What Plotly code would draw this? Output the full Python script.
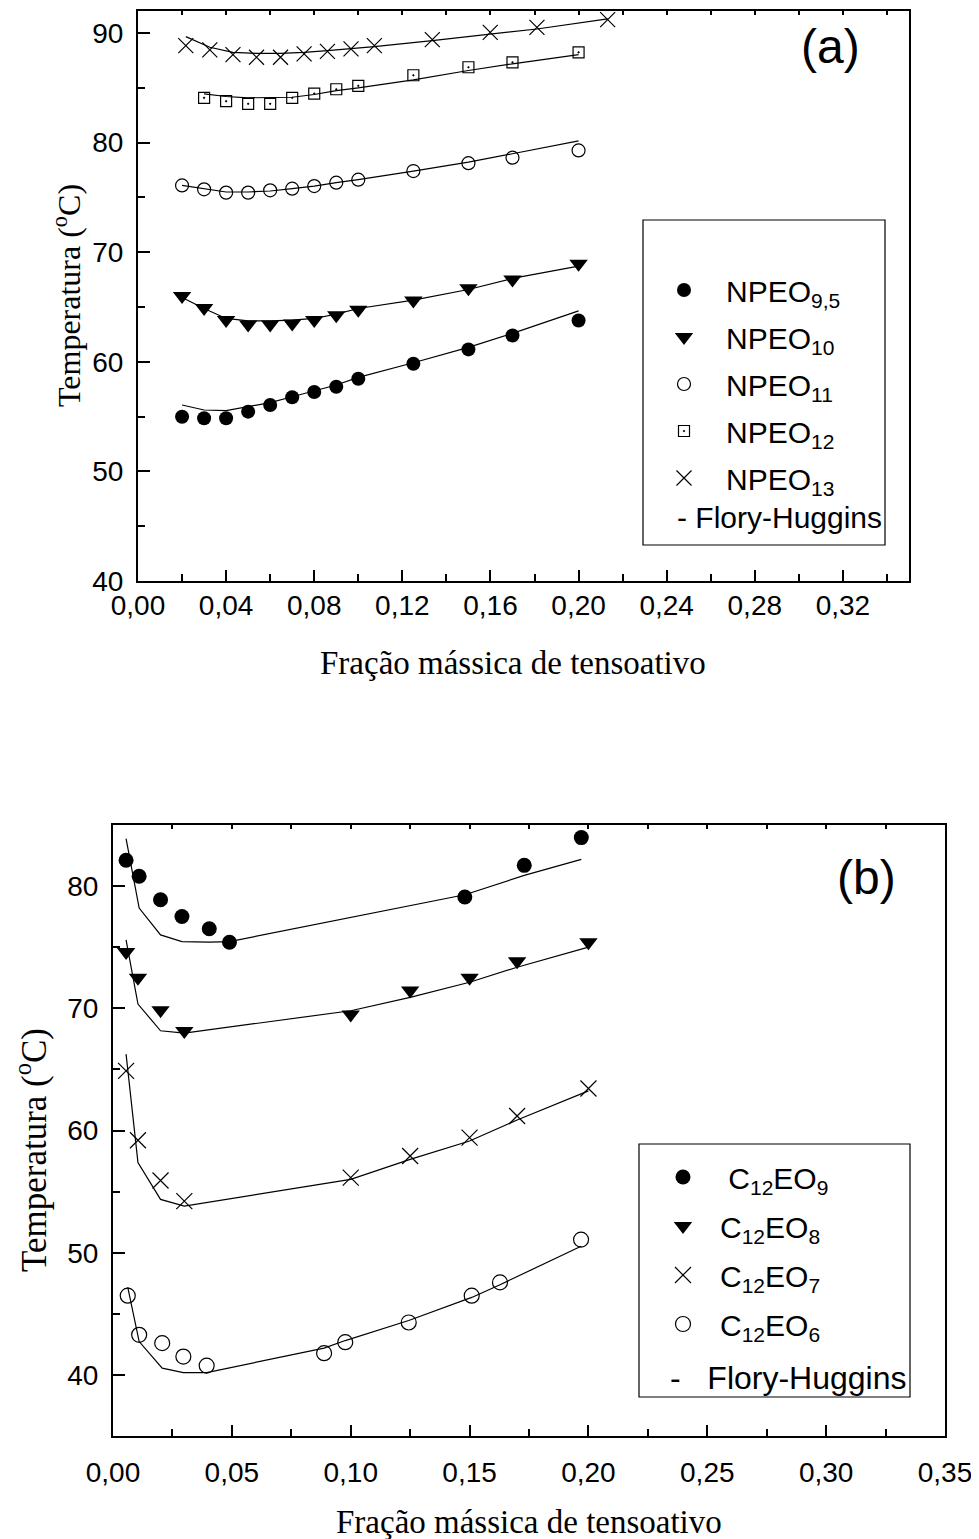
import plotly.graph_objects as go

# Reference canvas is 979x1539; the page shows the figure with an 8px body margin,
# so the figure is drawn 8px smaller and reference pixel positions are shifted by 8.
REF_W, REF_H = 979, 1539
OFF = 8
W, H = REF_W - OFF, REF_H - OFF

# ---------------- Panel (a): NPEO ----------------
x_npeo = [0.02, 0.03, 0.04, 0.05, 0.06, 0.07, 0.08, 0.09, 0.10, 0.125, 0.15, 0.17, 0.20]
t_npeo95 = [54.99, 54.85, 54.85, 55.45, 56.06, 56.76, 57.24, 57.72, 58.45, 59.82, 61.13, 62.40, 63.77]
fh_npeo95 = [56.06, 55.60, 55.54, 55.90, 56.27, 56.81, 57.36, 57.88, 58.58, 59.91, 61.31, 62.59, 64.64]
t_npeo10 = [66.0, 64.9, 63.8, 63.4, 63.4, 63.5, 63.8, 64.25, 64.75, 65.6, 66.7, 67.5, 68.95]
fh_npeo10 = [65.87, 64.86, 63.95, 63.73, 63.73, 63.80, 63.95, 64.34, 64.86, 65.62, 66.59, 67.60, 68.72]
t_npeo11 = [76.09, 75.73, 75.43, 75.43, 75.64, 75.79, 76.03, 76.34, 76.61, 77.40, 78.12, 78.62, 79.28]
fh_npeo11 = [76.10, 75.79, 75.49, 75.49, 75.58, 75.79, 76.03, 76.34, 76.62, 77.40, 78.22, 78.98, 80.15]
x_npeo12 = [0.03, 0.04, 0.05, 0.06, 0.07, 0.08, 0.09, 0.10, 0.125, 0.15, 0.17, 0.20]
t_npeo12 = [84.08, 83.77, 83.53, 83.53, 84.08, 84.47, 84.86, 85.17, 86.14, 86.87, 87.32, 88.23]
fh_npeo12 = [84.44, 84.20, 84.08, 84.08, 84.13, 84.38, 84.74, 84.99, 85.72, 86.57, 87.18, 88.02]
x_npeo13 = [0.0217, 0.0326, 0.0431, 0.0538, 0.0647, 0.0754, 0.0860, 0.0967, 0.1073, 0.1336, 0.1599, 0.1811, 0.2132]
t_npeo13 = [88.84, 88.45, 88.02, 87.78, 87.78, 88.09, 88.32, 88.54, 88.84, 89.39, 90.05, 90.51, 91.21]
fh_npeo13 = [89.66, 88.69, 88.23, 88.14, 88.14, 88.23, 88.39, 88.57, 88.75, 89.30, 89.91, 90.36, 91.28]

# ---------------- Panel (b): C12EOn ----------------
x_c12eo9 = [0.0055, 0.011, 0.02, 0.029, 0.0405, 0.049, 0.148, 0.173, 0.197]
t_c12eo9 = [82.11, 80.80, 78.88, 77.51, 76.51, 75.41, 79.11, 81.70, 83.97]
fh_c12eo9 = [83.89, 78.20, 76.01, 75.46, 75.41, 75.46, 79.29, 80.88, 82.19]
x_c12eo8 = [0.0055, 0.0105, 0.02, 0.03, 0.10, 0.125, 0.15, 0.17, 0.20]
t_c12eo8 = [74.6, 72.5, 69.85, 68.15, 69.5, 71.45, 72.5, 73.85, 75.4]
fh_c12eo8 = [75.60, 70.35, 68.16, 67.97, 69.80, 70.90, 72.13, 73.36, 75.0]
x_c12eo7 = [0.0055, 0.0105, 0.02, 0.03, 0.10, 0.125, 0.15, 0.17, 0.20]
t_c12eo7 = [64.88, 59.20, 55.91, 54.22, 56.14, 57.91, 59.42, 61.19, 63.44]
fh_c12eo7 = [66.25, 57.37, 54.36, 53.81, 56.0, 57.64, 59.14, 60.86, 63.24]
x_c12eo6 = [0.0062, 0.011, 0.0207, 0.0296, 0.0394, 0.0888, 0.0977, 0.1244, 0.1509, 0.1628, 0.1969]
t_c12eo6 = [46.48, 43.28, 42.60, 41.50, 40.76, 41.78, 42.68, 44.29, 46.48, 47.57, 51.07]
fh_c12eo6 = [47.19, 42.73, 40.55, 40.19, 40.19, 42.19, 42.81, 44.45, 46.34, 47.38, 50.53]

names_a = ["NPEO<sub>9,5</sub>", "NPEO<sub>10</sub>", "NPEO<sub>11</sub>", "NPEO<sub>12</sub>", "NPEO<sub>13</sub>"]
names_b = ["\u00a0C<sub>12</sub>EO<sub>9</sub>", "C<sub>12</sub>EO<sub>8</sub>",
           "C<sub>12</sub>EO<sub>7</sub>", "C<sub>12</sub>EO<sub>6</sub>"]
fit_label = "Flory-Huggins"
x_title = "Fração mássica de tensoativo"
y_title = "Temperatura (<sup>o</sup>C)"


def fx(px):
    return (px - OFF) / W


def fy(py):
    return 1 - (py - OFF) / H


SANS = "Liberation Sans, Arial, Helvetica, sans-serif"
SERIF = "Liberation Serif, Times New Roman, serif"
BLACK = "black"

fig = go.Figure()

sym_a = [
    dict(symbol="circle", size=14, color=BLACK),
    dict(symbol="triangle-down", size=16, color=BLACK),
    dict(symbol="circle-open", size=13, color=BLACK, line=dict(width=1.2, color=BLACK)),
    dict(symbol="square-open-dot", size=11, color=BLACK, line=dict(width=1.2, color=BLACK)),
    dict(symbol="x-thin-open", size=15, color=BLACK, line=dict(width=1.2, color=BLACK)),
]
series_a = [
    (x_npeo, t_npeo95, fh_npeo95),
    (x_npeo, t_npeo10, fh_npeo10),
    (x_npeo, t_npeo11, fh_npeo11),
    (x_npeo12, t_npeo12, fh_npeo12),
    (x_npeo13, t_npeo13, fh_npeo13),
]
for i, (xs, ts, fs) in enumerate(series_a):
    fig.add_trace(go.Scatter(x=xs, y=fs, mode="lines", line=dict(color=BLACK, width=1.2),
                             showlegend=False, xaxis="x3", yaxis="y", hoverinfo="skip"))
for i, (xs, ts, fs) in enumerate(series_a):
    fig.add_trace(go.Scatter(x=xs, y=ts, mode="markers", marker=sym_a[i], name=names_a[i],
                             legend="legend", legendgroup="a%d" % i, xaxis="x", yaxis="y"))

sym_b = [
    dict(symbol="circle", size=15, color=BLACK),
    dict(symbol="triangle-down", size=16, color=BLACK),
    dict(symbol="x-thin-open", size=16, color=BLACK, line=dict(width=1.2, color=BLACK)),
    dict(symbol="circle-open", size=15, color=BLACK, line=dict(width=1.2, color=BLACK)),
]
series_b = [
    (x_c12eo9, t_c12eo9, fh_c12eo9),
    (x_c12eo8, t_c12eo8, fh_c12eo8),
    (x_c12eo7, t_c12eo7, fh_c12eo7),
    (x_c12eo6, t_c12eo6, fh_c12eo6),
]
for i, (xs, ts, fs) in enumerate(series_b):
    fig.add_trace(go.Scatter(x=xs, y=fs, mode="lines", line=dict(color=BLACK, width=1.2),
                             showlegend=False, xaxis="x4", yaxis="y2", hoverinfo="skip"))
for i, (xs, ts, fs) in enumerate(series_b):
    fig.add_trace(go.Scatter(x=xs, y=ts, mode="markers", marker=sym_b[i], name=names_b[i],
                             legend="legend2", legendgroup="b%d" % i, xaxis="x2", yaxis="y2"))

tickfont = dict(family=SANS, size=28, color=BLACK)
common_x = dict(showgrid=False, zeroline=False, showline=True, linecolor=BLACK, linewidth=2,
                ticks="inside", tickwidth=2, ticklen=11, tickcolor=BLACK, tickformat=".2f",
                tickfont=tickfont, automargin=False, mirror=True,
                minor=dict(ticks="inside", ticklen=7, tickwidth=2, tickcolor=BLACK))
common_y = dict(showgrid=False, zeroline=False, showline=True, linecolor=BLACK, linewidth=2,
                ticks="inside", tickwidth=2, ticklen=12, tickcolor=BLACK, automargin=False,
                tickfont=tickfont, ticklabelstandoff=7, mirror=True,
                minor=dict(ticks="inside", ticklen=7, tickwidth=2, tickcolor=BLACK, dtick=5))
top_ticks = dict(side="top", range=[0, 0.35], tick0=0, ticks="inside", ticklen=4, tickwidth=1.5,
                 tickcolor=BLACK, showticklabels=False, showline=True, linecolor=BLACK,
                 linewidth=2, showgrid=False, zeroline=False, automargin=False)

fig.update_layout(
    width=W, height=H, autosize=False,
    margin=dict(l=0, r=0, t=0, b=0, autoexpand=False),
    paper_bgcolor="white", plot_bgcolor="white",
    separators=",.",
    xaxis=dict(domain=[fx(138), fx(909)], range=[0, 0.35], dtick=0.04, tick0=0, anchor="y",
               ticklabelstandoff=-2, **common_x, minor_dtick=0.02),
    yaxis=dict(domain=[fy(581), fy(11)], range=[40, 92], dtick=10, tick0=0, anchor="x", **common_y),
    xaxis3=dict(overlaying="x", anchor="y", dtick=0.02, **top_ticks),
    xaxis2=dict(domain=[fx(113), fx(945)], range=[0, 0.35], dtick=0.05, tick0=0, anchor="y2",
                ticklabelstandoff=10, **common_x, minor_dtick=0.025),
    yaxis2=dict(domain=[fy(1436), fy(825)], range=[35, 85], dtick=10, tick0=0, anchor="x2", **common_y),
    xaxis4=dict(overlaying="x2", anchor="y2", dtick=0.025, **top_ticks),
    legend=dict(x=fx(642), y=fy(264), xanchor="left", yanchor="top", bgcolor="rgba(0,0,0,0)",
                borderwidth=0, font=dict(family=SANS, size=30, color=BLACK), itemwidth=74,
                tracegroupgap=5, traceorder="grouped"),
    legend2=dict(x=fx(646), y=fy(1151), xanchor="left", yanchor="top", bgcolor="rgba(0,0,0,0)",
                 borderwidth=0, font=dict(family=SANS, size=30, color=BLACK), itemwidth=64,
                 tracegroupgap=7, traceorder="grouped"),
    showlegend=True,
)

shapes = [
    dict(type="rect", xref="paper", yref="paper", x0=fx(643), x1=fx(885), y0=fy(545), y1=fy(220),
         line=dict(color=BLACK, width=1.2), fillcolor="rgba(0,0,0,0)", layer="above"),
    dict(type="rect", xref="paper", yref="paper", x0=fx(639), x1=fx(910), y0=fy(1397), y1=fy(1144),
         line=dict(color=BLACK, width=1.2), fillcolor="rgba(0,0,0,0)", layer="above"),
]
fig.update_layout(shapes=shapes)

ann = [
    dict(text="- " + fit_label, x=fx(675), y=fy(518), xanchor="left", yanchor="middle",
         font=dict(family=SANS, size=30, color=BLACK)),
    dict(text="-\u00a0\u00a0\u00a0" + fit_label, x=fx(668), y=fy(1378), xanchor="left", yanchor="middle",
         font=dict(family=SANS, size=32, color=BLACK)),
    dict(text="(a)", x=fx(830), y=fy(46), xanchor="center", yanchor="middle",
         font=dict(family=SANS, size=48, color=BLACK)),
    dict(text="(b)", x=fx(866), y=fy(877), xanchor="center", yanchor="middle",
         font=dict(family=SANS, size=48, color=BLACK)),
    dict(text=x_title, x=fx(513), y=fy(663), xanchor="center", yanchor="middle",
         font=dict(family=SERIF, size=33, color=BLACK)),
    dict(text=x_title, x=fx(529), y=fy(1522), xanchor="center", yanchor="middle",
         font=dict(family=SERIF, size=33, color=BLACK)),
    dict(text=y_title, x=fx(67), y=fy(296), xanchor="center", yanchor="middle", textangle=-90,
         font=dict(family=SERIF, size=32, color=BLACK)),
    dict(text=y_title, x=fx(31), y=fy(1150), xanchor="center", yanchor="middle", textangle=-90,
         font=dict(family=SERIF, size=35, color=BLACK)),
]
for a in ann:
    a.update(xref="paper", yref="paper", showarrow=False)
fig.update_layout(annotations=ann)

fig.write_html("out.html")
